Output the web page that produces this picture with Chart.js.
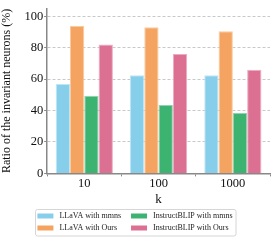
<!DOCTYPE html>
<html><head><meta charset="utf-8">
<script src="https://cdn.jsdelivr.net/npm/chart.js@4"></script>
<style>html,body{margin:0;padding:0;background:#fff}#wrap{width:276px;height:242px}</style>
</head><body><div id="wrap"><canvas id="c" width="276" height="242"></canvas></div>
<script>
const categories = ['10', '100', '1000'];
const seriesNames = ['LLaVA with mmns', 'LLaVA with Ours', 'InstructBLIP with mmns', 'InstructBLIP with Ours'];
const llavaMmns = [57, 62.5, 62.5];
const llavaOurs = [94, 93, 90.5];
const blipMmns = [49.5, 43.5, 38.5];
const blipOurs = [82, 76, 66];
const colors = ['#87CEEB', '#F4A460', '#3CB371', '#DB7093'];
const borders = ['#bfe6f5', '#f9caa0', '#8fd4ad', '#eeaac0'];
const values = [llavaMmns, llavaOurs, blipMmns, blipOurs];
const yTicks = [0, 20, 40, 60, 80, 100];
const legendOrder = [0, 2, 1, 3];
const FONT = "'Liberation Serif', 'DejaVu Serif', serif";

const frame = {
  id: 'legendFrame',
  afterDraw(chart) {
    const boxes = chart.legend.legendHitBoxes;
    const items = chart.legend.legendItems;
    if (!boxes || !boxes.length) return;
    let l = Infinity, t = Infinity, r = -Infinity, b = -Infinity;
    boxes.forEach((h, i) => {
      l = Math.min(l, h.left); t = Math.min(t, h.top); b = Math.max(b, h.top + h.height);
      if (items[i].datasetIndex === 2) r = Math.max(r, h.left + h.width);
    });
    const ctx = chart.ctx;
    ctx.save();
    ctx.strokeStyle = '#d6d6d6';
    ctx.lineWidth = 1;
    ctx.beginPath();
    const x0 = Math.round(l - 2) + 0.5, y0 = Math.round(t - 3) + 0.5;
    ctx.roundRect(x0, y0, Math.round(r + 3) - x0, Math.round(b + 4) - y0, 2);
    ctx.stroke();
    ctx.restore();
  }
};

new Chart(document.getElementById('c'), {
  type: 'bar',
  data: {
    labels: categories,
    datasets: seriesNames.map((n, i) => ({
      label: n, data: values[i], backgroundColor: colors[i], borderColor: borders[i], borderWidth: 1,
      categoryPercentage: 0.77, barPercentage: 1
    }))
  },
  options: {
    responsive: false, animation: false, devicePixelRatio: 1,
    layout: { padding: { left: 0, right: 6, top: 0, bottom: 0 } },
    plugins: {
      tooltip: { enabled: false },
      legend: {
        position: 'bottom',
        labels: {
          font: { family: FONT, size: 8 }, color: '#222',
          boxWidth: 16, boxHeight: 5, padding: 4,
          sort: (a, b) => legendOrder.indexOf(a.datasetIndex) - legendOrder.indexOf(b.datasetIndex),
          generateLabels(chart) {
            const items = Chart.defaults.plugins.legend.labels.generateLabels(chart);
            items.forEach(it => {
              it.lineWidth = 0;
              const tail = it.datasetIndex === 0 ? '\u2002 ' : it.datasetIndex === 1 ? '\u2002\u2002 ' : it.datasetIndex === 3 ? '\u2002' : '';
              it.text = ' ' + it.text + tail;
            });
            return items;
          }
        }
      }
    },
    scales: {
      x: {
        grid: { display: true, color: 'rgba(0,0,0,0)', drawTicks: true, tickLength: 3, tickColor: '#888', tickWidth: 1 },
        border: { color: '#888', width: 1.5 },
        ticks: { font: { family: FONT, size: 12.5 }, color: '#111', padding: 0 },
        title: { display: true, text: 'k', font: { family: FONT, size: 13 }, color: '#111', padding: { top: 0, bottom: 1 } }
      },
      y: {
        min: 0, max: 105,
        afterBuildTicks: s => { s.ticks = yTicks.map(v => ({ value: v })); },
        grid: {
          color: c => c.tick && c.tick.value === 0 ? 'rgba(0,0,0,0)' : '#bbbbbb',
          lineWidth: 0.8, tickLength: 3, tickColor: '#888', drawTicks: true, tickWidth: 1,
          tickBorderDash: []
        },
        border: { color: '#888', width: 1.5, dash: [3, 2] },
        ticks: { font: { family: FONT, size: 12.5 }, color: '#111', padding: 1 },
        title: { display: true, text: 'Ratio of the invariant neurons (%)', font: { family: FONT, size: 12 }, color: '#111', padding: { top: 0, bottom: 9 } }
      }
    }
  },
  plugins: [frame]
});
</script></body></html>
